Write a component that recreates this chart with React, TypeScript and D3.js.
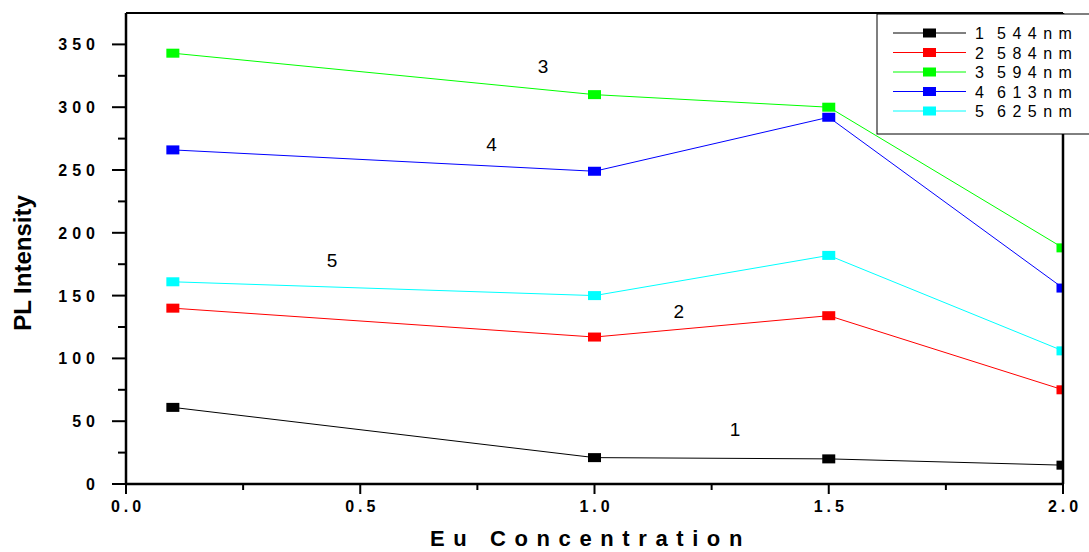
import React from 'react';
import * as d3 from 'd3';

const concentrations = [0.1, 1.0, 1.5, 2.0];
const seriesNums = ['1', '2', '3', '4', '5'];
const seriesWaves = ['544nm', '584nm', '594nm', '613nm', '625nm'];
const seriesColors = ['#000000', '#ff0000', '#00ff00', '#0000ff', '#00ffff'];
const s1 = [61, 21, 20, 15];
const s2 = [140, 117, 134, 75];
const s3 = [343, 310, 300, 188];
const s4 = [266, 249, 292, 156];
const s5 = [161, 150, 182, 106];
const seriesValues = [s1, s2, s3, s4, s5];
// in-plot curve numbers, in data units
const curveLabels = [
  { text: '1', x: 1.3, y: 38 },
  { text: '2', x: 1.18, y: 132 },
  { text: '3', x: 0.89, y: 327 },
  { text: '4', x: 0.78, y: 265 },
  { text: '5', x: 0.44, y: 173 },
];
const xTicks = [0, 0.5, 1.0, 1.5, 2.0];
const xMinor = [0.25, 0.75, 1.25, 1.75];
const yTicks = [0, 50, 100, 150, 200, 250, 300, 350];
const yMinor = [25, 75, 125, 175, 225, 275, 325];

const W = 1089;
const H = 552;
const font = 'Liberation Sans, Arial, sans-serif';

export default function App() {
  const margin = { left: 126, right: 26, top: 13, bottom: 68 };
  const x = d3.scaleLinear().domain([0, 2]).range([margin.left, W - margin.right]);
  const y = d3.scaleLinear().domain([0, 375]).range([H - margin.bottom, margin.top]);
  const line = d3.line<number>().x((_, i) => x(concentrations[i])).y(d => y(d));
  const [x0, x1] = x.range();
  const [yb, yt] = y.range();

  const legendX = 877;
  const legendY = 14;
  const rowH = 19.5;

  return (
    <svg width={W} height={H} style={{ position: 'fixed', left: 0, top: 0, background: '#fff' }} fontFamily={font}>
      <defs>
        <clipPath id="plot">
          <rect x={x0} y={yt} width={x1 - x0} height={yb - yt} />
        </clipPath>
      </defs>
      <rect width={W} height={H} fill="#fff" />

      <g clipPath="url(#plot)">
        {seriesValues.map((vals, k) => (
          <g key={k}>
            <path d={line(vals) || ''} fill="none" stroke={seriesColors[k]} strokeWidth={1} />
            {vals.map((v, i) => (
              <rect key={i} x={x(concentrations[i]) - 6.5} y={y(v) - 4.5} width={13} height={9} fill={seriesColors[k]} />
            ))}
          </g>
        ))}
      </g>

      {curveLabels.map((l, i) => (
        <text key={i} x={x(l.x)} y={y(l.y)} fontSize={19} textAnchor="middle" fill="#000">{l.text}</text>
      ))}

      {/* frame */}
      <line x1={x0} x2={x1} y1={yt} y2={yt} stroke="#000" strokeWidth={2} />
      <line x1={x1} x2={x1} y1={yt} y2={yb} stroke="#000" strokeWidth={2.5} />
      <line x1={x0} x2={x0} y1={yt} y2={yb} stroke="#000" strokeWidth={2.5} />
      <line x1={x0} x2={x1} y1={yb} y2={yb} stroke="#000" strokeWidth={2.5} />

      {/* y ticks */}
      {yTicks.map(t => (
        <g key={t}>
          <line x1={x0 - 14} x2={x0} y1={y(t)} y2={y(t)} stroke="#000" strokeWidth={2} />
          <text x={x0 - 26} y={y(t) + 6} textAnchor="end" fontSize={16} fontWeight="bold" letterSpacing={5}>{t}</text>
        </g>
      ))}
      {yMinor.map(t => (
        <line key={t} x1={x0 - 8} x2={x0} y1={y(t)} y2={y(t)} stroke="#000" strokeWidth={2} />
      ))}

      {/* x ticks */}
      {xTicks.map(t => (
        <g key={t}>
          <line x1={x(t)} x2={x(t)} y1={yb} y2={yb + 10} stroke="#000" strokeWidth={2} />
          <text x={x(t) + 2} y={yb + 28} textAnchor="middle" fontSize={16} fontWeight="bold" letterSpacing={4}>{t.toFixed(1)}</text>
        </g>
      ))}
      {xMinor.map(t => (
        <line key={t} x1={x(t)} x2={x(t)} y1={yb} y2={yb + 6} stroke="#000" strokeWidth={2} />
      ))}

      {/* axis titles */}
      <text x={430} y={546} fontSize={22} fontWeight="bold" letterSpacing={8.6}>Eu Concentration</text>
      <text transform={`translate(31,263) rotate(-90)`} textAnchor="middle" fontSize={24} fontWeight="bold">PL Intensity</text>

      {/* legend */}
      <rect x={legendX} y={legendY} width={240} height={120} fill="#fff" stroke="#000" strokeWidth={1} />
      {seriesNums.map((n, k) => {
        const cy = legendY + 19 + k * rowH;
        return (
          <g key={n}>
            <line x1={893} x2={966} y1={cy} y2={cy} stroke={seriesColors[k]} strokeWidth={1} />
            <rect x={923} y={cy - 4.5} width={13} height={9} fill={seriesColors[k]} />
            <text x={975} y={cy + 6} fontSize={16}>{n}</text>
            <text x={997} y={cy + 6} fontSize={16} letterSpacing={6.5}>{seriesWaves[k]}</text>
          </g>
        );
      })}
    </svg>
  );
}
